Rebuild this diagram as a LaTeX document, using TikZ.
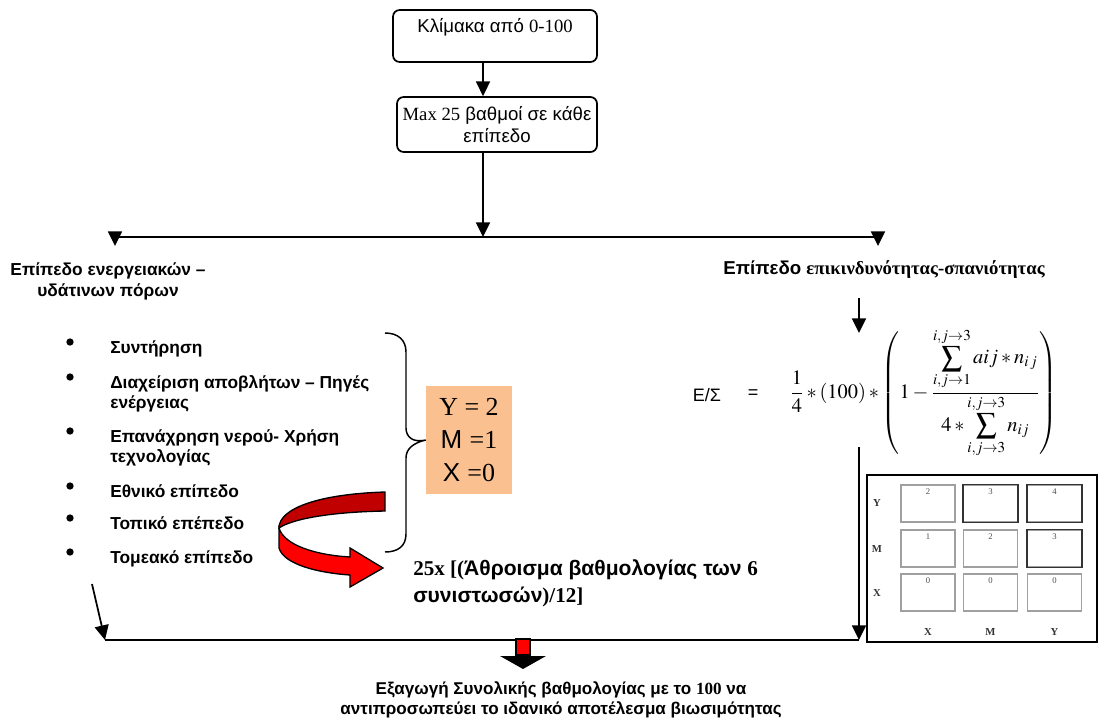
\documentclass[tikz,border=0pt]{standalone}
\usepackage{mathptmx}
\usepackage[no-math]{fontspec}
\setmainfont{Liberation Sans}
\newfontfamily\tms{Liberation Serif}
\usetikzlibrary{arrows.meta}

\definecolor{peach}{RGB}{250,192,144}
\definecolor{darkred}{RGB}{192,0,0}
\definecolor{cellgray}{RGB}{160,160,160}

\tikzset{
  flowbox/.style={draw, line width=1.3pt, rounded corners=5pt, align=center, inner sep=2pt, font=\fontsize{14}{16.5}\selectfont},
  arr/.style={line width=1.3pt, -{Triangle[width=10.5pt,length=11pt]}},
  plainline/.style={line width=1.3pt},
  heading/.style={font=\bfseries\fontsize{13}{15.75}\selectfont, align=center, inner sep=0pt},
  itemtext/.style={font=\bfseries\fontsize{13}{15}\selectfont, inner sep=0pt, anchor=base west},
  dot/.style={circle, fill, inner sep=0pt, minimum size=5.5pt},
  scorebox/.style={fill=peach, minimum width=64.5pt, minimum height=81pt, align=center, font=\fontsize{19.5}{25}\selectfont, inner sep=0pt},
  cell/.style={draw=cellgray, line width=0.8pt, minimum width=40.5pt, minimum height=27.75pt, inner sep=0pt},
  darkcell/.style={draw=black!80, line width=1.1pt},
  cellnum/.style={font=\tms\fontsize{6.5}{7}\selectfont, text=black!70, anchor=north, inner sep=3pt},
  axislab/.style={font=\tms\bfseries\fontsize{8}{9}\selectfont, text=black!80, inner sep=0pt}
}

\begin{document}
\begin{tikzpicture}[x=0.75pt,y=0.75pt,yscale=-1,xscale=1]
\useasboundingbox (0,0) rectangle (1098,724);

%Rounded Rect
\node[flowbox, minimum width=153pt, minimum height=39pt] (scale) at (495,36) {Κλίμακα από {\tms 0-100}\\\mbox{}};
%Rounded Rect
\node[flowbox, minimum width=150pt, minimum height=41.25pt] (max) at (497,124.5) {{\tms Max 25} βαθμοί σε κάθε\\επίπεδο};

%Straight Lines
\coordinate (split) at (483,237);
\coordinate (hl) at (115,237);
\coordinate (hr) at (878,237);
\draw[arr] (scale.south -| split) -- (max.north -| split);
\draw[arr] (max.south -| split) -- (split);
\draw[plainline] (hl) -- (hr);
\draw[arr] (hl) -- ++(0,9);
\draw[arr] (hr) -- ++(0,9);

% Text Node
\node[heading] (waterhead) at (108,281) {Επίπεδο ενεργειακών –\\υδάτινων πόρων};
% Text Node
\node[heading, font=\bfseries\fontsize{14}{16}\selectfont] (riskhead) at (884,270) {Επίπεδο {\tms\fontsize{14}{16}\selectfont επικινδυνότητας-σπανιότητας}};

% Bullet list
\foreach \by/\ta/\tb [count=\i] in {353/{Συντήρηση}/{},
    388/{Διαχείριση αποβλήτων – Πηγές}/{ενέργειας},
    442/{Επανάχρηση νερού- Χρήση}/{τεχνολογίας},
    497/{Εθνικό επίπεδο}/{},
    529/{Τοπικό επέπεδο}/{},
    563/{Τομεακό επίπεδο}/{}}{
  \node[itemtext] (item\i) at (110,\by) {\ta};
  \node[itemtext] (item\i b) at (110,\by+20.5) {\tb};
  \node[dot] (dot\i) at (70,\by-11) {};
}

% Score box
\node[scorebox] (score) at (469,440) {{\tms Y = 2}\\M {\tms =1}\\X {\tms =0}};

%Shape: Brace
\draw[line width=1.1pt] (385,333) .. controls (398,333) and (406,340) .. (406,352) -- (406,428)
  .. controls (406,437) and (413,443) .. (score.west)
  .. controls (413,443) and (406,449) .. (406,458) -- (406,534)
  .. controls (406,546) and (398,552) .. (385,552);

%Shape: Curved Arrow
\draw[line width=1pt, fill=darkred] (385,492) .. controls (320,494) and (279,508) .. (279,528)
  .. controls (292,519) and (330,512) .. (385,511) -- cycle;
\draw[line width=1pt, fill=red] (279,528) -- (279,548) .. controls (284,565) and (320,573) .. (350,575)
  -- (350,587) -- (383,568) -- (350,548) -- (350,557)
  .. controls (315,555) and (284,545) .. (279,528) -- cycle;

% Text Node
\node[font=\bfseries\fontsize{15.8}{20}\selectfont, align=left, anchor=west, inner sep=0pt] (sum) at (413,583)
  {{\tms 25x [(}Άθροισμα βαθμολογίας των {\tms 6}\\συνιστωσών{\tms )/12]}};

% Formula
\node[font=\fontsize{13.5}{15}\selectfont, inner sep=0pt] (es) at (707,395) {Ε/Σ};
\node[font=\fontsize{13.5}{15}\selectfont, inner sep=0pt] (eq) at (753,394) {=};
\node[font=\fontsize{15.3}{18}\selectfont, anchor=west, inner sep=0pt] (formula) at (790,393)
  {$\displaystyle \frac{1}{4}*(100)*\left(1-\frac{\displaystyle\sum_{i,j\to1}^{i,j\to3}aij*n_{i\,j}}{\displaystyle 4*\sum_{i,j\to3}^{i,j\to3}n_{ij}}\right)$};

%Straight Lines
\coordinate (esatop) at (859,298);
\coordinate (esabot) at (859,333);
\coordinate (esaout) at (859,447);
\coordinate (leftfoot) at (92,584);
\coordinate (botl) at (105,640);
\coordinate (botr) at (859,640);
\draw[arr] (esatop) -- (esabot);
\draw[arr] (esaout) -- (botr);
\draw[arr] (leftfoot) -- (botl);
\draw[plainline] (botl) -- (botr);

% Matrix picture
\draw[line width=1.2pt] (867,475) rectangle (1097,642);
\foreach \r/\ry in {1/503.5,2/548.5,3/592.5}
  \foreach \c/\cx in {1/928,2/990.5,3/1054.5}
    \node[cell] (c\r\c) at (\cx,\ry) {};
\foreach \cellname in {c12,c13,c23}
  \draw[darkcell] (\cellname.south west) rectangle (\cellname.north east);
\foreach \cellname/\v in {c11/2,c12/3,c13/4,c21/1,c22/2,c23/3,c31/0,c32/0,c33/0}
  \node[cellnum] at (\cellname.north) {\v};
\foreach \ry/\lab in {503.5/Y,548.5/M,592.5/X}
  \node[axislab] at (877,\ry) {\lab};
\foreach \cx/\lab in {928/X,990.5/M,1054.5/Y}
  \node[axislab] at (\cx,632) {\lab};

%Shape: Down Arrow
\draw[line width=2.2pt, fill=red] (516,639) -- (516,655) -- (530,655) -- (530,639) -- cycle;
\fill (500,656) -- (546,656) -- (523,669) -- cycle;

% Text Node
\node[heading, font=\bfseries\fontsize{12.8}{14.5}\selectfont] (result) at (561,700)
  {Εξαγωγή Συνολικής βαθμολογίας με το {\tms 100} να\\αντιπροσωπεύει το ιδανικό αποτέλεσμα βιωσιμότητας};
\end{tikzpicture}
\end{document}
